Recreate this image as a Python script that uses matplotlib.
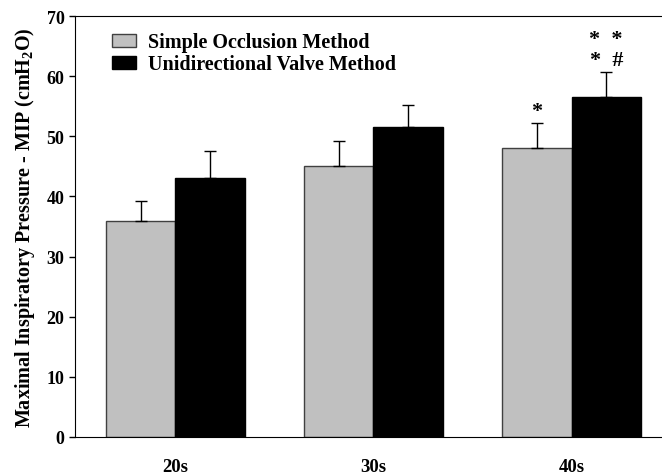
import numpy as np
import matplotlib
matplotlib.use('Agg')
import matplotlib.pyplot as plt

groups = ['20s', '30s', '40s']
simple_mean = [36.0, 45.1, 48.1]
simple_err = [3.3, 4.1, 4.1]
valve_mean = [43.1, 51.5, 56.5]
valve_err = [4.4, 3.8, 4.2]

plt.rcParams['font.family'] = ['Liberation Serif', 'DejaVu Serif']
plt.rcParams['font.weight'] = 'bold'
plt.rcParams['axes.labelweight'] = 'bold'
plt.rcParams['mathtext.fontset'] = 'custom'
plt.rcParams['mathtext.rm'] = 'Liberation Serif:bold'

fig = plt.figure(figsize=(6.62, 4.77), dpi=100)
ax = fig.add_axes([0.113, 0.082, 0.90, 0.882])

x = np.arange(len(groups))
w = 0.35
ax.bar(x - w / 2, simple_mean, w, color='#c0c0c0', edgecolor='#404040', linewidth=1,
       yerr=[[0] * 3, simple_err], capsize=4.5, error_kw=dict(elinewidth=1, capthick=1),
       label='Simple Occlusion Method')
ax.bar(x + w / 2, valve_mean, w, color='black', edgecolor='black', linewidth=1,
       yerr=[[0] * 3, valve_err], capsize=4.5, error_kw=dict(elinewidth=1, capthick=1),
       label='Unidirectional Valve Method')

ax.text(x[2] - w / 2, simple_mean[2] + simple_err[2] + 0.3, '*', ha='center', va='bottom', fontsize=16)
ax.text(x[2] + w / 2, valve_mean[2] + valve_err[2] + 0.3, '*  #', ha='center', va='bottom', fontsize=16)
ax.text(x[2] + w / 2, valve_mean[2] + valve_err[2] + 3.8, '*  *', ha='center', va='bottom', fontsize=16)

ax.set_xlim(-0.507, 2.5)
ax.set_ylim(0, 70)
ax.set_yticks(range(0, 71, 10))
ax.set_xticks(x)
ax.set_xticklabels(groups)
ax.tick_params(axis='x', length=0, pad=15, labelsize=13.5)
ax.tick_params(axis='y', length=4, width=1, labelsize=13)
ax.spines['right'].set_visible(False)
ax.set_ylabel('Maximal Inspiratory Pressure - MIP (cmH$_2$O)', fontsize=14.5, labelpad=7)

ax.legend(loc='upper left', frameon=False, fontsize=14.5, handlelength=1.2, handleheight=0.6,
          handletextpad=0.6, labelspacing=0.1, borderaxespad=0.4, bbox_to_anchor=(0.035, 1.0))

fig.savefig('out.png', dpi=100)
